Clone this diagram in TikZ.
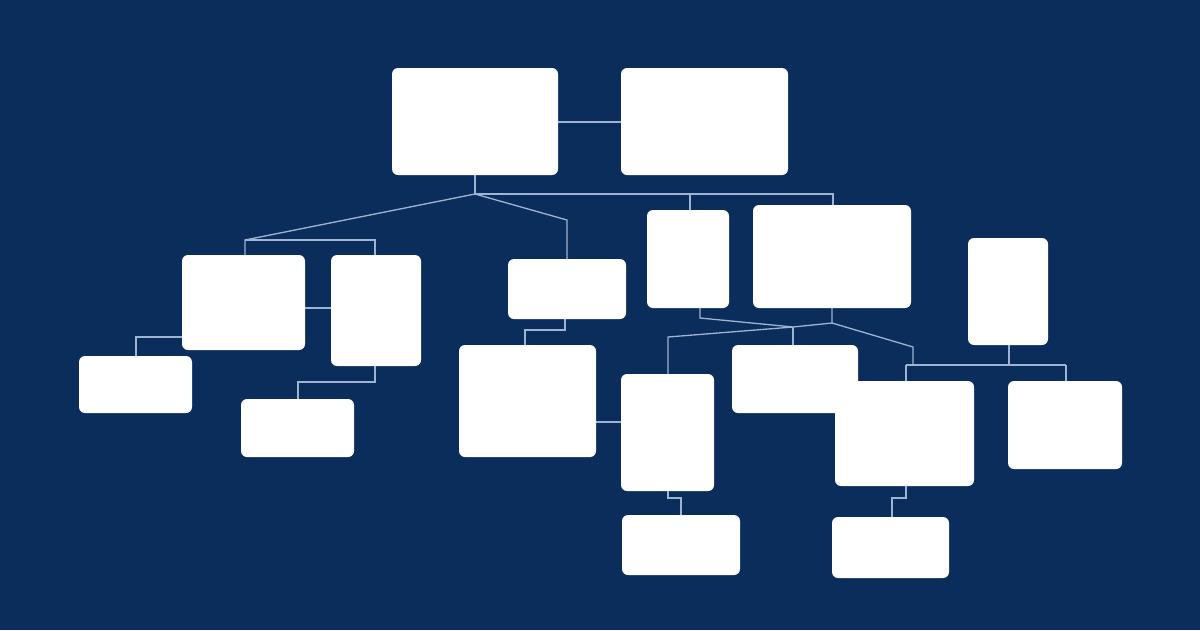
\documentclass[tikz,border=0pt]{standalone}
\usetikzlibrary{calc}
\definecolor{bg}{HTML}{0B2D5B}
\definecolor{ln}{HTML}{9DB4D2}
\tikzset{
  box/.style={fill=white, rounded corners=6pt, draw=none, inner sep=0pt, outer sep=0pt},
  conn/.style={draw=ln, line width=1.3pt}
}
\newcommand\bx[5]{\node[box, minimum width={(#4-#2)*1pt}, minimum height={(#5-#3)*1pt}] (#1) at ({(#2+#4)/2},{(#3+#5)/2}) {};}
\begin{document}
\begin{tikzpicture}[x=1pt,y=-1pt]
\fill[bg] (0,0) rectangle (1200,630);
\useasboundingbox (0,0) rectangle (1200,630);
% invisible positions of boxes first (nodes needed for anchors)
\begin{scope}[box/.append style={fill=none}]
\bx{A}{392}{68}{558}{175}
\bx{B}{621}{68}{788}{175}
\bx{C}{182}{255}{305}{350}
\bx{D}{331}{255}{421}{366}
\bx{E}{508}{259}{626}{319}
\bx{F}{647}{210}{729}{308}
\bx{G}{753}{205}{911}{308}
\bx{H}{968}{238}{1048}{345}
\bx{I}{79}{356}{192}{413}
\bx{J}{241}{399}{354}{457}
\bx{K}{459}{345}{596}{457}
\bx{L}{621}{374}{714}{491}
\bx{M}{732}{345}{858}{413}
\bx{N}{835}{381}{974}{486}
\bx{O}{1008}{381}{1122}{469}
\bx{P}{622}{515}{740}{575}
\bx{Q}{832}{517}{949}{578}
\end{scope}
% coordinates
\coordinate (ab) at (590,122);
\coordinate (j1) at (475,194);
\coordinate (fb) at (690,194);
\coordinate (gb) at (833,194);
\coordinate (cl) at (245,240);
\coordinate (dl) at (375,240);
\coordinate (el) at (567,220);
\coordinate (cd) at (318,308);
\coordinate (ci) at (136,337);
\coordinate (dj1) at (375,382);
\coordinate (dj2) at (298,382);
\coordinate (ek1) at (565,330);
\coordinate (ek2) at (525,330);
\coordinate (kl) at (608,422);
\coordinate (f1) at (700,318);
\coordinate (m1) at (793,327);
\coordinate (g1) at (832,323);
\coordinate (l1) at (668,337);
\coordinate (g2) at (913,347);
\coordinate (h1) at (1009,365);
\coordinate (n1) at (906,365);
\coordinate (o1) at (1066,365);
\coordinate (lp1) at (668,498);
\coordinate (lp2) at (681,498);
\coordinate (nq1) at (906,498);
\coordinate (nq2) at (892,498);
% connectors
\draw[conn] (ab -| A.east) -- (ab -| B.west);
\draw[conn] (A.south) -- (j1) -- (gb) -- (gb |- G.north);
\draw[conn] (fb) -- (fb |- F.north);
\draw[conn] (j1) -- (cl) -- (cl |- C.north);
\draw[conn] (cl) -- (dl) -- (dl |- D.north);
\draw[conn] (j1) -- (el) -- (el |- E.north);
\draw[conn] (cd -| C.east) -- (cd -| D.west);
\draw[conn] (ci -| C.west) -- (ci) -- (ci |- I.north);
\draw[conn] (dj1 |- D.south) -- (dj1) -- (dj2) -- (dj2 |- J.north);
\draw[conn] (ek1 |- E.south) -- (ek1) -- (ek2) -- (ek2 |- K.north);
\draw[conn] (kl -| K.east) -- (kl -| L.west);
\draw[conn] (f1 |- F.south) -- (f1) -- (m1) -- (g1) -- (g1 |- G.south);
\draw[conn] (m1) -- (m1 |- M.north);
\draw[conn] (m1) -- (l1) -- (l1 |- L.north);
\draw[conn] (g1) -- (g2) -- (g2 |- n1);
\draw[conn] (n1) -- (o1);
\draw[conn] (h1 |- H.south) -- (h1);
\draw[conn] (n1) -- (n1 |- N.north);
\draw[conn] (o1) -- (o1 |- O.north);
\draw[conn] (lp1 |- L.south) -- (lp1) -- (lp2) -- (lp2 |- P.north);
\draw[conn] (nq1 |- N.south) -- (nq1) -- (nq2) -- (nq2 |- Q.north);
% boxes
\foreach \n in {A,B,C,D,E,F,G,H,I,J,K,L,M,N,O,P,Q}{
  \fill[white, rounded corners=6pt] (\n.north west) rectangle (\n.south east);
}
\end{tikzpicture}
\end{document}
